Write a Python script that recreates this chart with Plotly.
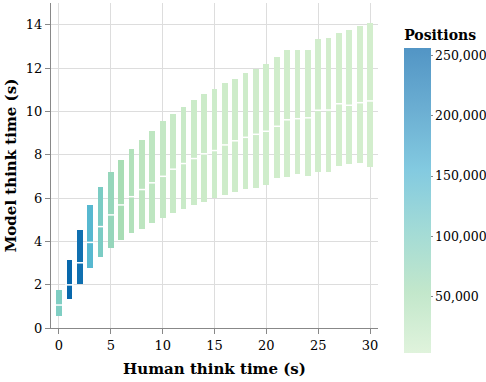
import plotly.graph_objects as go

# human think time (s)
human_time = list(range(0, 31))

# model think time: lower / median / upper (s)
model_low = [0.56, 1.34, 2.02, 2.79, 3.27, 3.69, 4.05, 4.37, 4.58, 4.85,
             5.08, 5.31, 5.48, 5.66, 5.80, 6.00, 6.16, 6.27, 6.42, 6.47,
             6.61, 6.91, 6.96, 7.11, 7.02, 7.21, 7.18, 7.48, 7.55, 7.61, 7.45]
model_med = [1.06, 1.99, 3.01, 3.95, 4.68, 5.22, 5.68, 6.06, 6.39, 6.70,
             7.00, 7.33, 7.59, 7.82, 8.04, 8.19, 8.45, 8.64, 8.80, 8.94,
             9.08, 9.31, 9.61, 9.66, 9.70, 10.05, 10.06, 10.35, 10.28, 10.40, 10.48]
model_high = [1.76, 3.13, 4.52, 5.66, 6.53, 7.19, 7.76, 8.24, 8.67, 9.08,
              9.54, 9.89, 10.21, 10.51, 10.79, 11.05, 11.32, 11.48, 11.76, 11.97,
              12.20, 12.52, 12.85, 12.82, 12.82, 13.32, 13.40, 13.60, 13.75, 13.94, 14.10]

# number of positions per bucket
positions = [100000, 256000, 245000, 145000, 105000, 74000, 54000, 42000, 30000, 28000,
             21000, 17000, 15000, 13000, 12000, 11000, 10000, 9500, 9000, 8500,
             8000, 7500, 7000, 6500, 6000, 5500, 5200, 5000, 4500, 4200, 3700]

cbar_ticks = [50000, 100000, 150000, 200000, 250000]
pos_min, pos_max = 3700, 256000

greenblue = [[0.0, "#d3eecd"], [0.2, "#a8ddb5"], [0.4, "#7bccc4"],
             [0.6, "#4eb3d3"], [0.8, "#2b8cbe"], [1.0, "#0868ac"]]


def fade(hexcol, a=0.7):
    r, g, b = (int(hexcol[i:i + 2], 16) for i in (1, 3, 5))
    return "rgb(%d,%d,%d)" % tuple(round(c * a + 255 * (1 - a)) for c in (r, g, b))


legend_scale = [[s, fade(c)] for s, c in greenblue]

font = "DejaVu Serif"

fig = go.Figure()
fig.add_trace(go.Bar(
    x=human_time,
    y=[h - l for h, l in zip(model_high, model_low)],
    base=model_low,
    width=0.55,
    marker=dict(color=positions, colorscale=greenblue, cmin=pos_min, cmax=pos_max,
                line=dict(width=0)),
    showlegend=False,
))
fig.add_trace(go.Scatter(
    x=human_time, y=model_med, mode="markers",
    marker=dict(symbol="line-ew", size=6, line=dict(width=1.5, color="white")),
    showlegend=False,
))
# colour legend (drawn lighter, like the original)
fig.add_trace(go.Scatter(
    x=human_time, y=model_med, mode="markers", hoverinfo="skip",
    marker=dict(color=positions, colorscale=legend_scale, cmin=pos_min, cmax=pos_max,
                opacity=0, showscale=True,
                colorbar=dict(
                    title=dict(text="<b>Positions</b>", side="top",
                               font=dict(family=font, size=14, color="black")),
                    tickvals=cbar_ticks, tickformat=",d",
                    tickfont=dict(family=font, size=12.5, color="black"),
                    thickness=27, lenmode="pixels", len=326,
                    x=1.08, xanchor="left", y=0.425, yanchor="middle",
                    xpad=0, ypad=0,
                    outlinewidth=0, ticks="outside", ticklen=2, tickcolor="#888",
                )),
    showlegend=False,
))

fig.update_xaxes(range=[-0.77, 30.77], tickvals=[0, 5, 10, 15, 20, 25, 30],
                 showgrid=True, gridcolor="#ddd", zeroline=False,
                 showline=True, linecolor="#888", ticks="outside", ticklen=5, tickcolor="#888",
                 tickfont=dict(family=font, size=13, color="black"),
                 title=dict(text="<b>Human think time (s)</b>",
                            font=dict(family=font, size=15, color="black"), standoff=11))
fig.update_yaxes(range=[0, 15], tickvals=list(range(0, 15, 2)),
                 showgrid=True, gridcolor="#ddd", zeroline=False,
                 showline=True, linecolor="#888", ticks="outside", ticklen=5, tickcolor="#888",
                 tickfont=dict(family=font, size=13, color="black"),
                 title=dict(text="<b>Model think time (s)</b>",
                            font=dict(family=font, size=15, color="black"), standoff=5))
fig.update_layout(
    width=486, height=382,
    margin=dict(l=51, r=108, t=3, b=54, autoexpand=False),
    plot_bgcolor="white", paper_bgcolor="white",
    bargap=0,
)
# drop the page's default body margin so the figure sits at the window corner
fig.write_html("out.html", config={"displayModeBar": False},
               post_script="document.body.style.margin='0';")
